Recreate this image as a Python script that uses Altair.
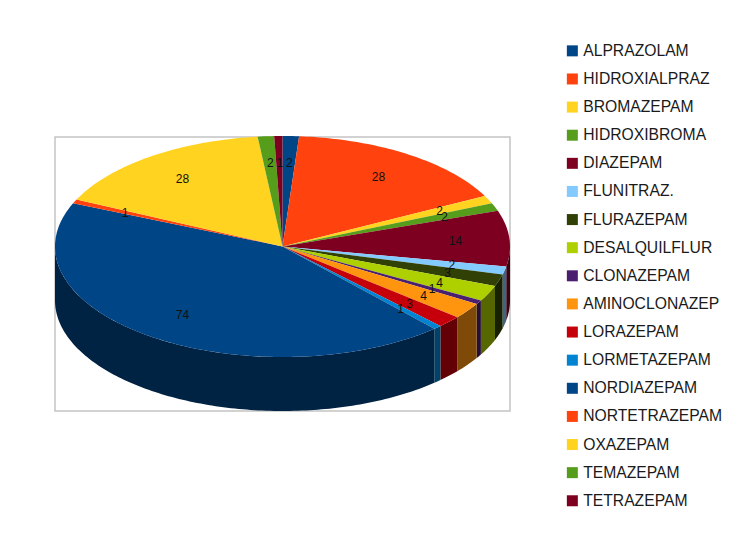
import math
import altair as alt

names = ["ALPRAZOLAM", "HIDROXIALPRAZ", "BROMAZEPAM", "HIDROXIBROMA", "DIAZEPAM", "FLUNITRAZ.",
         "FLURAZEPAM", "DESALQUILFLUR", "CLONAZEPAM", "AMINOCLONAZEP", "LORAZEPAM", "LORMETAZEPAM",
         "NORDIAZEPAM", "NORTETRAZEPAM", "OXAZEPAM", "TEMAZEPAM", "TETRAZEPAM"]
values = [2, 28, 2, 2, 14, 2, 3, 4, 1, 4, 3, 1, 74, 1, 28, 2, 1]
colors = ["#004586", "#ff420e", "#ffd320", "#579d1c", "#7e0021", "#83caff", "#314004", "#aecf00",
          "#4b1f6f", "#ff950e", "#c5000b", "#0084d1", "#004586", "#ff420e", "#ffd320", "#579d1c", "#7e0021"]

W, H = 717, 526
CX, CY, RX, RY, DEPTH = 274.5, 238.5, 227.5, 110.5, 54.0
LABEL_R = 0.76
SIDE = 0.5


def dark(c):
    return "#" + "".join(f"{int(int(c[i:i+2], 16) * SIDE):02x}" for i in (1, 3, 5))


def pt(deg, r=1.0, dy=0.0):
    a = math.radians(deg)
    return [CX + RX * r * math.sin(a), CY - RY * r * math.cos(a) + dy]


def arc(a0, a1):
    n = max(2, int(abs(a1 - a0)) + 2)
    return [a0 + (a1 - a0) * i / (n - 1) for i in range(n)]


total = sum(values)
tops, walls, labels = [], [], []
cum = 0
for name, v, c in zip(names, values, colors):
    a0, a1 = cum / total * 360, (cum + v) / total * 360
    cum += v
    ring = [[CX, CY]] + [pt(a) for a in arc(a0, a1)] + [[CX, CY]]
    tops.append({"type": "Feature", "geometry": {"type": "Polygon", "coordinates": [ring]},
                 "properties": {"name": name}})
    b0, b1 = max(a0, 90), min(a1, 270)
    if b1 > b0:
        angs = arc(b0, b1)
        wall = [pt(a) for a in angs] + [pt(a, dy=DEPTH) for a in reversed(angs)]
        wall.append(wall[0])
        walls.append({"type": "Feature", "geometry": {"type": "Polygon", "coordinates": [wall]},
                      "properties": {"side": dark(c)}})
    x, y = pt((a0 + a1) / 2, LABEL_R)
    labels.append({"px": x + 0.5, "py": y + 0.5, "value": v})

proj = alt.Projection(type="identity", scale=1, translate=[0, 0])
sx = alt.Scale(domain=[0, W], range=[0, W])
sy = alt.Scale(domain=[0, H], range=[0, H])

frame = alt.Chart(alt.Data(values=[{"x0": 47, "x1": 502, "y0": 129, "y1": 403}])).mark_rect(
    fill="white", stroke="#c4c4c4", strokeWidth=1.5
).encode(
    x=alt.X("x0:Q", scale=sx, axis=None), x2="x1:Q",
    y=alt.Y("y0:Q", scale=sy, axis=None), y2="y1:Q",
)

wall_layer = alt.Chart(alt.Data(values=walls)).mark_geoshape(strokeWidth=0).encode(
    fill=alt.Fill("properties.side:N", scale=None, legend=None)
).project(**proj.to_dict())

top_layer = alt.Chart(alt.Data(values=tops)).mark_geoshape(strokeWidth=0).encode(
    fill=alt.Fill(
        "properties.name:N",
        scale=alt.Scale(domain=names, range=colors),
        sort=names,
        legend=alt.Legend(
            title=None, orient="none", legendX=556.5, legendY=35, symbolType="square",
            symbolSize=121, symbolStrokeWidth=0, labelFont="Liberation Sans", labelFontSize=15.7,
            labelColor="#1a1a1a", labelLimit=200, rowPadding=11.12, labelOffset=3, padding=0,
            values=names,
        ),
    )
).project(**proj.to_dict())

text_layer = alt.Chart(alt.Data(values=labels)).mark_text(
    font="Liberation Sans", fontSize=12, color="#111111", align="center", baseline="middle"
).encode(
    x=alt.X("px:Q", scale=sx, axis=None),
    y=alt.Y("py:Q", scale=sy, axis=None),
    text="value:Q",
)

chart = alt.layer(frame, wall_layer, top_layer, text_layer).resolve_scale(
    x="shared", y="shared", fill="independent"
).properties(
    width=W, height=H, padding=0,
    autosize=alt.AutoSizeParams(type="none"),
    background="white",
).configure_view(stroke=None)

chart.save("out.html", embed_options={"renderer": "svg", "actions": False})
